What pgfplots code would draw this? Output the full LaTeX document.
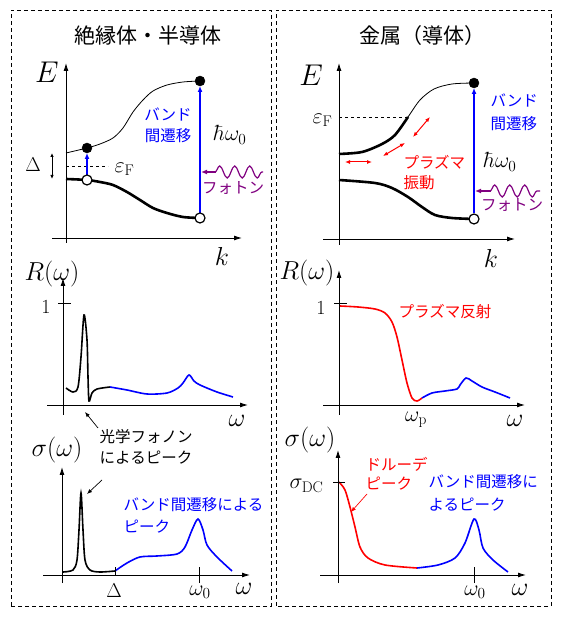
\RequirePackage{fix-cm}
\documentclass[border=0pt]{standalone}
\usepackage{fontspec}
\newfontfamily\jp{Noto Sans CJK JP}
\usepackage{pgfplots}
\pgfplotsset{compat=1.18}
\usetikzlibrary{arrows.meta,decorations.pathmorphing}
\definecolor{pur}{RGB}{128,0,128}
\pgfplotsset{
  panel/.style={axis lines=middle, x=1pt, y=1pt, clip=false, xtick=\empty, ytick=\empty,
    enlargelimits=false, anchor=south west,
    axis line style={line width=0.9pt, -{Latex[length=8pt,width=5pt]}}},
}
\newcommand{\M}{\fontsize{22}{26}\selectfont}
\newcommand{\LL}{\fontsize{26}{30}\selectfont}
\newcommand{\J}{\jp\fontsize{15.5}{18}\selectfont}
\tikzset{ar/.style={-{Latex[length=6pt,width=5pt]}},
  dar/.style={{Latex[length=5pt,width=4pt]}-{Latex[length=5pt,width=4pt]}},
  wave/.style={decorate, decoration={snake, amplitude=6pt, segment length=15pt}}}
\begin{document}
\begin{tikzpicture}[x=1pt,y=1pt]
\useasboundingbox (0,0) rectangle (562,618);
\draw[dash pattern=on 4pt off 3pt, line width=0.8pt] (11,12) rectangle (271,608);
\draw[dash pattern=on 4pt off 3pt, line width=0.8pt] (276,12) rectangle (551,608);
\node[font=\jp\fontsize{21}{24}\selectfont] at (148,582) {絶縁体・半導体};
\node[font=\jp\fontsize{21}{24}\selectfont] at (422,582) {金属（導体）};

% ---------- Panel A: insulator band ----------
\begin{axis}[panel, xmin=-14, xmax=176, ymin=-5, ymax=175, at={(52pt,375pt)}]
\addplot[black, line width=0.8pt, smooth] coordinates {(0,85)(21,90)(34,94)(47,100)(57,110)(67,126)(77,138)(87,147)(101,153)(117,156)(134,157)};
\addplot[black, line width=2.6pt, smooth] coordinates {(0,59)(21,58)(34,56)(47,53)(61,46)(74,38)(87,30)(101,25)(117,21)(134,20)};
\draw[dashed, line width=0.7pt] (0,72)--(42,72);
\node[font=\M, anchor=west] at (45,69) {$\varepsilon_{\mathrm{F}}$};
\node[font=\fontsize{20}{24}\selectfont] at (-33,73) {$\Delta$};
\draw[line width=0.8pt, {Latex[length=4pt,width=3.5pt]}-{Latex[length=4pt,width=3.5pt]}] (-14,59)--(-14,85);
\draw[blue, line width=1.2pt, ar] (21,63)--(21,85);
\draw[blue, line width=1.2pt, ar] (134,25)--(134,152);
\node[font=\J, text=blue] at (102,124) {バンド};
\node[font=\J, text=blue] at (102,102) {間遷移};
\node[font=\M, anchor=base, inner sep=1pt] at (164,97) {$\hbar\omega_0$};
\draw[pur, line width=1.2pt, ar] (150,66)--(135,66);
\draw[pur, line width=1.2pt, wave] (149,66)--(197,66);
\node[font=\J, text=pur] at (167,50) {フォトン};
\node[font=\fontsize{30}{34}\selectfont] at (-19,166) {$E$};
\node[font=\LL] at (156,-18) {$k$};
\addplot[only marks, mark=*, mark size=5pt, black] coordinates {(21,90)(134,157)};
\addplot[only marks, mark=*, mark size=5pt, mark options={fill=white, draw=black, line width=1.2pt}] coordinates {(21,58)(134,20)};
\end{axis}

% ---------- Panel B: metal band ----------
\begin{axis}[panel, xmin=-16, xmax=176, ymin=-6, ymax=176, at={(323pt,373pt)}]
\addplot[black, line width=0.8pt, smooth] coordinates {(0,85)(23,87)(43,95)(56,104)(69,122)(81,139)(95,150)(113,155)(135,156)};
\addplot[black, line width=2.6pt, smooth] coordinates {(0,85)(23,87)(43,95)(56,104)(69,122)};
\addplot[black, line width=2.6pt, smooth] coordinates {(0,59)(36,56)(53,51)(69,42)(83,32)(96,24)(113,21)(135,20)};
\draw[dashed, line width=0.7pt] (0,122)--(69,122);
\node[font=\M, anchor=east] at (-3,119) {$\varepsilon_{\mathrm{F}}$};
\draw[red, line width=1pt, dar] (6,77)--(33,77);
\draw[red, line width=1pt, dar] (44,83)--(66,96);
\draw[red, line width=1pt, dar] (74,102)--(91,122);
\node[font=\J, text=red, anchor=west] at (61,77) {プラズマ};
\node[font=\J, text=red, anchor=west] at (61,56) {振動};
\draw[blue, line width=1.2pt, ar] (135,26)--(135,151);
\node[font=\J, text=blue, anchor=west] at (148,139) {バンド};
\node[font=\J, text=blue, anchor=west] at (148,115) {間遷移};
\node[font=\M, anchor=base, inner sep=1pt] at (161,71) {$\hbar\omega_0$};
\draw[pur, line width=1.2pt, ar] (152,48)--(136,48);
\draw[pur, line width=1.2pt, wave] (151,48)--(201,48);
\node[font=\J, text=pur] at (173,34) {フォトン};
\node[font=\fontsize{30}{34}\selectfont] at (-28,164) {$E$};
\node[font=\LL] at (152,-19) {$k$};
\addplot[only marks, mark=*, mark size=5pt, black] coordinates {(135,156)};
\addplot[only marks, mark=*, mark size=5pt, mark options={fill=white, draw=black, line width=1.2pt}] coordinates {(135,20)};
\end{axis}

% ---------- Panel C: insulator R ----------
\begin{axis}[panel, xmin=-16, xmax=185, ymin=-10, ymax=127, at={(47pt,203pt)}]
\addplot[black, line width=1.6pt, smooth, tension=0.5] coordinates {(3,17)(10,13)(15,18)(18,48)(21,90)(24,65)(25,28)(26,4)(29,12)(34,16)(47,18)};
\addplot[blue, line width=1.6pt, smooth] coordinates {(47,18)(64,15)(84,11)(104,12)(115,17)(120,22)(126,30)(131,24)(137,20)(154,13)(170,8)};
\draw[line width=0.9pt] (-5,102)--(8,102);
\node[font=\fontsize{20}{24}\selectfont] at (-17,98) {$1$};
\node[font=\LL] at (-11,131) {$R(\omega)$};
\node[font=\LL] at (174,-16) {$\omega$};
\node[font=\J] at (83,-32) {光学フォノン};
\node[font=\J] at (83,-53) {によるピーク};
\draw[black, line width=0.7pt, -{Latex[length=5pt,width=4pt]}] (35,-23)--(22,-7);
\end{axis}

% ---------- Panel D: metal R ----------
\begin{axis}[panel, xmin=-16, xmax=186, ymin=-10, ymax=135, at={(323pt,203pt)}]
\addplot[red, line width=1.6pt, smooth] coordinates {(1,99)(19,98)(36,96)(46,92)(53,83)(58,68)(63,45)(68,22)(73,7)(78,4)(83,7)};
\addplot[blue, line width=1.6pt, smooth] coordinates {(83,7)(93,12)(106,14)(118,16)(121,20)(127,27)(133,24)(143,18)(156,13)(171,7)};
\draw[line width=0.9pt] (-5,102)--(8,102);
\node[font=\fontsize{20}{24}\selectfont] at (-18,97) {$1$};
\node[font=\LL] at (-32,132) {$R(\omega)$};
\node[font=\M] at (77,-15) {$\omega_{\mathrm{p}}$};
\node[font=\LL] at (176,-16) {$\omega$};
\node[font=\J, text=red] at (106,93) {プラズマ反射};
\end{axis}

% ---------- Panel E: insulator sigma ----------
\begin{axis}[panel, xmin=-19, xmax=188, ymin=-8, ymax=108, at={(43pt,35pt)}]
\addplot[black, line width=1.6pt, smooth, tension=0.5] coordinates {(1,3)(11,5)(15,15)(17,45)(19,82)(21,45)(23,15)(28,5)(38,3)(53,4)};
\addplot[blue, line width=1.6pt, smooth] coordinates {(53,4)(65,12)(78,18)(95,19)(115,21)(123,28)(130,45)(136,56)(141,45)(145,30)(155,18)(170,4)};
\draw[line width=0.9pt] (53,0)--(53,8);
\draw[line width=0.9pt] (137,-8)--(137,8);
\node[font=\fontsize{20}{24}\selectfont] at (52,-16) {$\Delta$};
\node[font=\M] at (138,-17) {$\omega_0$};
\node[font=\LL] at (182,-14) {$\omega$};
\node[font=\LL] at (-5,125) {$\sigma(\omega)$};
\node[font=\J, text=blue, anchor=west] at (58,70) {バンド間遷移による};
\node[font=\J, text=blue, anchor=west] at (58,48) {ピーク};
\draw[black, line width=0.7pt, -{Latex[length=5pt,width=4pt]}] (40,95)--(25,81);
\end{axis}

% ---------- Panel F: metal sigma ----------
\begin{axis}[panel, xmin=-18, xmax=188, ymin=-8, ymax=125, at={(320pt,35pt)}]
\addplot[red, line width=1.6pt, smooth] coordinates {(1,93)(7,85)(12,68)(17,48)(22,28)(30,17)(47,10)(79,7)};
\addplot[blue, line width=1.6pt, smooth] coordinates {(79,7)(100,10)(117,17)(127,32)(136,56)(141,45)(145,27)(155,15)(170,3)};
\draw[line width=0.9pt] (-5,93)--(7,93);
\node[font=\M, anchor=east] at (-11,89) {$\sigma_{\mathrm{DC}}$};
\draw[line width=0.9pt] (136,-8)--(136,8);
\node[font=\M] at (137,-17) {$\omega_0$};
\node[font=\LL] at (182,-15) {$\omega$};
\node[font=\LL] at (-28,135) {$\sigma(\omega)$};
\node[font=\J, text=red, anchor=west] at (24,111) {ドルーデ};
\node[font=\J, text=red, anchor=west] at (24,91) {ピーク};
\draw[red, line width=0.7pt, -{Latex[length=5pt,width=4pt]}] (29,81)--(13,63);
\node[font=\J, text=blue, anchor=west] at (87,93) {バンド間遷移に};
\node[font=\J, text=blue, anchor=west] at (87,70) {よるピーク};
\end{axis}
\end{tikzpicture}
\end{document}
